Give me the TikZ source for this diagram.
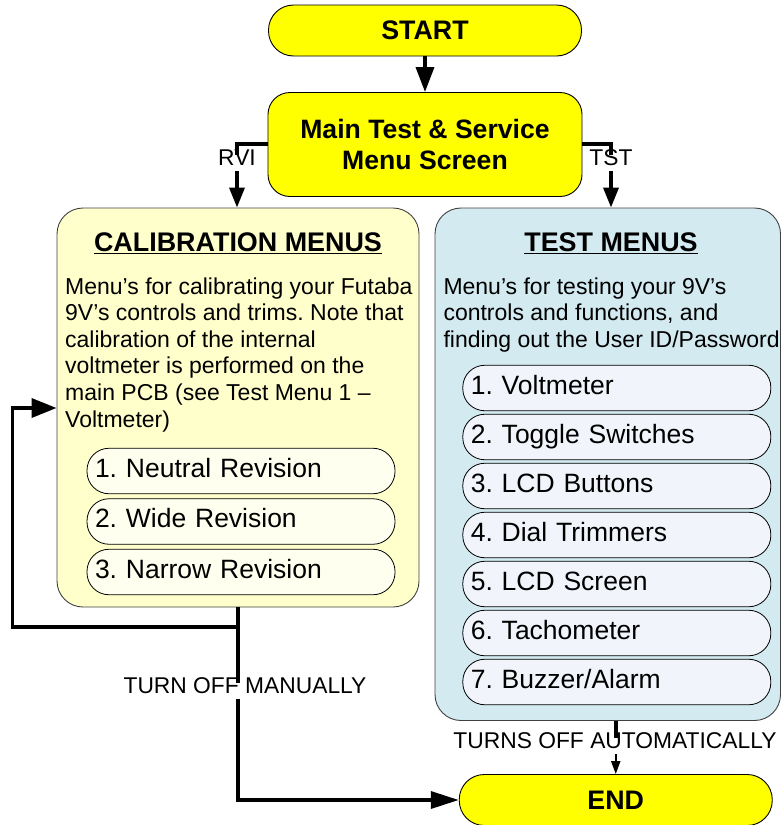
\documentclass[tikz,border=0pt]{standalone}
\usepackage{fontspec}
\setmainfont{Liberation Sans}
\usetikzlibrary{arrows.meta}
\definecolor{ybox}{HTML}{FFFF00}
\definecolor{lbfill}{HTML}{FFFFCC}
\definecolor{lifill}{HTML}{FFFFF0}
\definecolor{rbfill}{HTML}{D2EAF0}
\definecolor{rifill}{HTML}{F1F5FB}
\definecolor{bordergray}{HTML}{404040}
\frenchspacing
\begin{document}
\begin{tikzpicture}[x=1pt,y=-1pt,
  termbox/.style={draw=black,line width=0.9pt,fill=ybox,rounded corners=25pt,
    minimum width=313pt,minimum height=51pt,inner sep=0pt,
    font=\bfseries\fontsize{26.8}{31}\selectfont},
  mainbox/.style={draw=black,line width=0.9pt,fill=ybox,rounded corners=22pt,
    minimum width=314pt,minimum height=104pt,inner sep=0pt,align=center,
    font=\bfseries\fontsize{26.6}{31.7}\selectfont},
  groupbox/.style={draw=bordergray,line width=0.9pt,rounded corners=26pt,inner sep=0pt},
  grouptitle/.style={anchor=base,inner sep=0pt,font=\bfseries\fontsize{26.9}{31}\selectfont},
  bodytext/.style={anchor=north west,inner sep=0pt,align=left,
    font=\fontsize{23}{26.6}\selectfont},
  itembox/.style={draw=black,line width=0.8pt,rounded corners=22pt,
    text width=292pt,inner xsep=8pt,inner ysep=0pt,minimum height=45.5pt,align=left,
    text height=1.3em,text depth=0.1em,font=\fontsize{26.5}{31}\selectfont},
  flowlabel/.style={fill=white,inner xsep=1pt,inner ysep=3pt,text height=0.75em,text depth=0.25em,
    font=\fontsize{22.8}{27}\selectfont},
  conn/.style={line width=3.5pt},
  thinconn/.style={line width=2pt}
]
\useasboundingbox (0,0) rectangle (781,825);

% terminal and main nodes
\node[termbox] (start) at (425,30.5) {START};
\node[mainbox] (main) at (425,144.5) {Main Test \& Service\\Menu Screen};
\node[termbox] (end) at (615.75,800) {END};

% group boxes
\node[groupbox,fill=lbfill,minimum width=362pt,minimum height=399pt] (lbox) at (238,407.5) {};
\node[groupbox,fill=rbfill,minimum width=345.5pt,minimum height=512.5pt] (rbox) at (607.75,464.25) {};

% left group contents
\node[grouptitle] (ltitle) at (238,251.7) {\underline{CALIBRATION MENUS}};
\node[bodytext] (ltext) at (65,277.2) {Menu’s for calibrating your Futaba\\9V’s controls and trims. Note that\\calibration of the internal\\voltmeter is performed on the\\main PCB (see Test Menu 1 –\\Voltmeter)};
\node[itembox,fill=lifill] (l1) at (241,471) {1. Neutral Revision};
\node[itembox,fill=lifill] (l2) at (241,521.5) {2. Wide Revision};
\node[itembox,fill=lifill] (l3) at (241,572) {3. Narrow Revision};

% right group contents
\node[grouptitle] (rtitle) at (611,251.7) {\underline{TEST MENUS}};
\node[bodytext] (rtext) at (443.3,277.2) {Menu’s for testing your 9V’s\\controls and functions, and\\finding out the User ID/Password};
\node[itembox,fill=rifill] (r1) at (616.8,388) {1. Voltmeter};
\node[itembox,fill=rifill] (r2) at (616.8,437) {2. Toggle Switches};
\node[itembox,fill=rifill] (r3) at (616.8,486) {3. LCD Buttons};
\node[itembox,fill=rifill] (r4) at (616.8,535) {4. Dial Trimmers};
\node[itembox,fill=rifill] (r5) at (616.8,584) {5. LCD Screen};
\node[itembox,fill=rifill] (r6) at (616.8,633) {6. Tachometer};
\node[itembox,fill=rifill] (r7) at (616.8,682) {7. Buzzer/Alarm};

% connector coordinates
\coordinate (rvi) at (237,144);
\coordinate (tst) at (611,144);
\coordinate (j) at (238,627);
\coordinate (lp) at (12.5,627);
\coordinate (lq) at (12.5,408);

% connectors
\draw[conn,-{Triangle[length=25pt,width=18pt]}] (start) -- (main);
\draw[conn,-{Triangle[length=20pt,width=15pt]}] (main.west |- rvi) -- (rvi) -- (rvi |- lbox.north);
\draw[conn,-{Triangle[length=20pt,width=15pt]}] (main.east |- tst) -- (tst) -- (tst |- rbox.north);
\node[flowlabel] (rvilab) at (237,162.5) {RVI};
\node[flowlabel] (tstlab) at (611,162.5) {TST};

\draw[conn] (lbox.south) -- (j);
\draw[conn,-{Triangle[length=25pt,width=19pt]}] (j) -- (lp) -- (lq) -- (lq -| lbox.west);
\draw[conn,-{Triangle[length=28pt,width=17pt]}] (j) -- (j |- end) -- (end.west);
\node[flowlabel] (manlab) at (245,691) {TURN OFF MANUALLY};

\node[flowlabel,fill=none] (autolab) at (615,746) {TURNS OFF AUTOMATICALLY};
\draw[conn] (rbox.south -| end) -- (autolab.north -| end);
\draw[thinconn,-{Triangle[length=13pt,width=9pt]}] (autolab.south -| end) -- (end.north);
\end{tikzpicture}
\end{document}
